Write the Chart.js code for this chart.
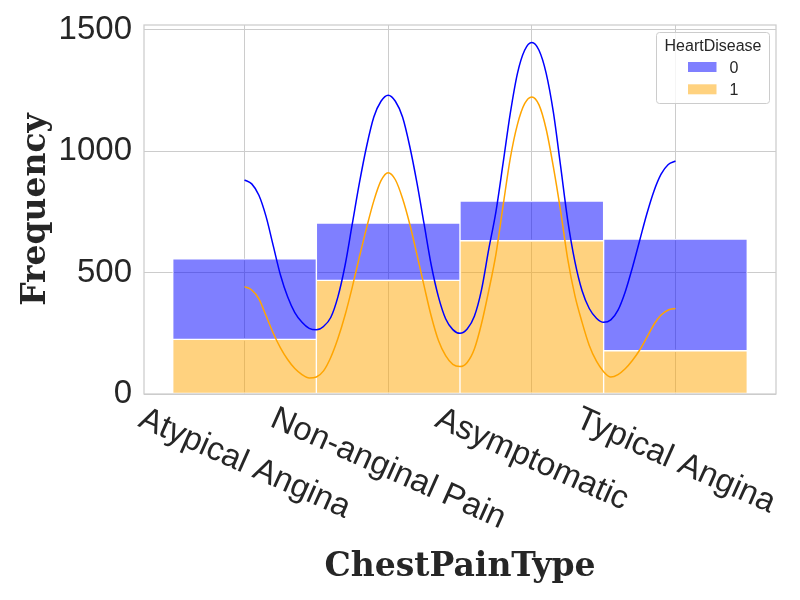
<!DOCTYPE html>
<html>
<head>
<meta charset="utf-8">
<script src="https://cdn.jsdelivr.net/npm/chart.js@4.4.0/dist/chart.umd.min.js"></script>
<style>
html,body{margin:0;padding:0;background:#ffffff;}
canvas{display:block;}
</style>
</head>
<body>
<canvas id="chart" width="800" height="600"></canvas>
<script>
// ---- data ----
const categories = ['Atypical Angina', 'Non-anginal Pain', 'Asymptomatic', 'Typical Angina'];
const seriesLabels = ['0', '1'];
const legendTitle = 'HeartDisease';
const xTitle = 'ChestPainType';
const yTitle = 'Frequency';

// bar counts (stacked: HeartDisease=1 at bottom, HeartDisease=0 on top)
const countsHD0 = [331, 236, 163, 460];
const countsHD1 = [225, 468, 631, 178];

const yTickValues = [0, 500, 1000, 1500];

// positions (in category units) where the KDE curves were read
const kdeX = [0.00, 0.05, 0.10, 0.15, 0.20, 0.25, 0.30, 0.35, 0.40, 0.45,
              0.50, 0.55, 0.60, 0.65, 0.70, 0.75, 0.80, 0.85, 0.90, 0.95,
              1.00, 1.05, 1.10, 1.15, 1.20, 1.25, 1.30, 1.35, 1.40, 1.45,
              1.50, 1.55, 1.60, 1.65, 1.70, 1.75, 1.80, 1.85, 1.90, 1.95,
              2.00, 2.05, 2.10, 2.15, 2.20, 2.25, 2.30, 2.35, 2.40, 2.45,
              2.50, 2.55, 2.60, 2.65, 2.70, 2.75, 2.80, 2.85, 2.90, 2.95, 3.00];

// stacked KDE curve for HeartDisease=0 (blue, upper curve)
const kde0Y = [881, 865, 818, 730, 610, 490, 400, 335, 295, 270,
               264, 278, 315, 400, 530, 700, 870, 1020, 1140, 1205,
               1230, 1205, 1140, 1020, 870, 700, 530, 400, 310, 265,
               250, 268, 320, 430, 595, 750, 950, 1155, 1320, 1415,
               1447, 1415, 1320, 1160, 940, 715, 545, 425, 352, 312,
               295, 305, 345, 420, 520, 630, 740, 835, 905, 945, 959];

// KDE curve for HeartDisease=1 (orange, lower curve)
const kde1Y = [442, 428, 392, 322, 250, 190, 142, 105, 80, 66,
               70, 95, 150, 228, 325, 440, 565, 685, 795, 878,
               911, 882, 805, 700, 575, 445, 320, 220, 158, 122,
               113, 130, 185, 290, 425, 575, 775, 970, 1110, 1195,
               1223, 1190, 1090, 935, 755, 555, 405, 295, 200, 135,
               92, 70, 80, 104, 138, 180, 232, 286, 325, 346, 352];

// ---- styles ----
const colorHD0 = 'rgba(0, 0, 255, 0.5)';
const colorHD1 = 'rgba(255, 165, 0, 0.5)';
const lineHD0 = '#0000ff';
const lineHD1 = '#ffa500';
const textColor = '#262626';
const gridColor = '#cccccc';
const sansFamily = '"Liberation Sans", Arial, sans-serif';
const serifFamily = '"DejaVu Serif", serif';

const barsHD1 = categories.map((c, i) => ({ x: i, y: [0, countsHD1[i]] }));
const barsHD0 = categories.map((c, i) => ({ x: i, y: [countsHD1[i], countsHD1[i] + countsHD0[i]] }));
const curveHD0 = kdeX.map((x, i) => ({ x: x, y: kde0Y[i] }));
const curveHD1 = kdeX.map((x, i) => ({ x: x, y: kde1Y[i] }));

const decorPlugin = {
  id: 'decor',
  afterDatasetsDraw(chart) {
    const ctx = chart.ctx;
    const a = chart.chartArea;
    const xs = chart.scales.x;
    ctx.save();

    // frame (spines)
    ctx.strokeStyle = gridColor;
    ctx.lineWidth = 1.25;
    ctx.strokeRect(a.left, a.top, a.right - a.left, a.bottom - a.top);

    // rotated category labels (clockwise, centred under tick)
    ctx.font = '33px ' + sansFamily;
    ctx.fillStyle = textColor;
    ctx.textAlign = 'center';
    ctx.textBaseline = 'middle';
    const theta = 24 * Math.PI / 180;
    const lineH = 38;
    const top = a.bottom + 6;
    xs.ticks.forEach(t => {
      const label = categories[Math.round(t.value)];
      if (label === undefined) return;
      const w = ctx.measureText(label).width;
      const H = w * Math.sin(theta) + lineH * Math.cos(theta);
      const cx = xs.getPixelForValue(t.value);
      const cy = top + H / 2;
      ctx.save();
      ctx.translate(cx, cy);
      ctx.rotate(theta);
      ctx.fillText(label, 0, 0);
      ctx.restore();
    });

    // legend box
    const bx = a.right - 119.5, by = a.top + 7.5, bw = 113, bh = 71, r = 3;
    ctx.beginPath();
    ctx.moveTo(bx + r, by);
    ctx.lineTo(bx + bw - r, by);
    ctx.arcTo(bx + bw, by, bx + bw, by + r, r);
    ctx.lineTo(bx + bw, by + bh - r);
    ctx.arcTo(bx + bw, by + bh, bx + bw - r, by + bh, r);
    ctx.lineTo(bx + r, by + bh);
    ctx.arcTo(bx, by + bh, bx, by + bh - r, r);
    ctx.lineTo(bx, by + r);
    ctx.arcTo(bx, by, bx + r, by, r);
    ctx.closePath();
    ctx.fillStyle = 'rgba(255,255,255,0.8)';
    ctx.fill();
    ctx.strokeStyle = gridColor;
    ctx.lineWidth = 1;
    ctx.stroke();

    ctx.fillStyle = textColor;
    ctx.font = '16px ' + sansFamily;
    ctx.textAlign = 'center';
    ctx.textBaseline = 'alphabetic';
    ctx.fillText(legendTitle, bx + bw / 2, by + 18.5);

    const items = [
      { label: chart.data.datasets[2].label, color: chart.data.datasets[2].backgroundColor },
      { label: chart.data.datasets[3].label, color: chart.data.datasets[3].backgroundColor }
    ];
    ctx.textAlign = 'left';
    items.forEach((it, k) => {
      const ry = by + 29.5 + k * 22.3;
      ctx.fillStyle = it.color;
      ctx.fillRect(bx + 31.5, ry, 28.5, 10);
      ctx.fillStyle = textColor;
      ctx.fillText(it.label, bx + 73, ry + 10.7);
    });

    ctx.restore();
  }
};

new Chart(document.getElementById('chart').getContext('2d'), {
  type: 'bar',
  data: {
    datasets: [
      {
        type: 'line', label: seriesLabels[0] + ' KDE', data: curveHD0,
        borderColor: lineHD0, borderWidth: 1.5, pointRadius: 0, fill: false,
        cubicInterpolationMode: 'monotone', order: 0
      },
      {
        type: 'line', label: seriesLabels[1] + ' KDE', data: curveHD1,
        borderColor: lineHD1, borderWidth: 1.5, pointRadius: 0, fill: false,
        cubicInterpolationMode: 'monotone', order: 0
      },
      {
        type: 'bar', label: seriesLabels[0], data: barsHD0,
        backgroundColor: colorHD0, borderColor: '#ffffff', borderWidth: 1, borderSkipped: false,
        grouped: false, barPercentage: 1, categoryPercentage: 1, order: 1
      },
      {
        type: 'bar', label: seriesLabels[1], data: barsHD1,
        backgroundColor: colorHD1, borderColor: '#ffffff', borderWidth: 1, borderSkipped: false,
        grouped: false, barPercentage: 1, categoryPercentage: 1, order: 1
      }
    ]
  },
  options: {
    responsive: false,
    devicePixelRatio: 1,
    animation: false,
    events: [],
    layout: { padding: { top: 25, right: 24, bottom: 0, left: 0 } },
    plugins: { legend: { display: false }, tooltip: { enabled: false } },
    scales: {
      x: {
        type: 'linear', min: -0.7, max: 3.7, offset: false,
        afterBuildTicks: s => { s.ticks = categories.map((c, i) => ({ value: i })); },
        afterFit: s => { s.height = 206; s.paddingLeft = 0; s.paddingRight = 0; },
        grid: { color: gridColor, lineWidth: 1, drawTicks: false, tickLength: 0, offset: false },
        border: { display: false },
        ticks: { display: false, callback: v => categories[v] },
        title: {
          display: true, text: xTitle, color: textColor,
          font: { family: serifFamily, weight: 'bold', size: 33 },
          padding: { top: 0, bottom: 13 }
        }
      },
      y: {
        type: 'linear', min: 0, max: 1519,
        afterBuildTicks: s => { s.ticks = yTickValues.map(v => ({ value: v })); },
        afterFit: s => { s.width = 144; s.paddingTop = 0; s.paddingBottom = 0; },
        grid: { color: gridColor, lineWidth: 1, drawTicks: false, tickLength: 0 },
        border: { display: false },
        ticks: { color: textColor, padding: 12, font: { family: sansFamily, size: 33 }, callback: v => String(v) },
        title: {
          display: true, text: yTitle, color: textColor,
          font: { family: serifFamily, weight: 'bold', size: 33 },
          padding: { top: 17, bottom: 0 }
        }
      }
    }
  },
  plugins: [decorPlugin]
});
</script>
</body>
</html>
